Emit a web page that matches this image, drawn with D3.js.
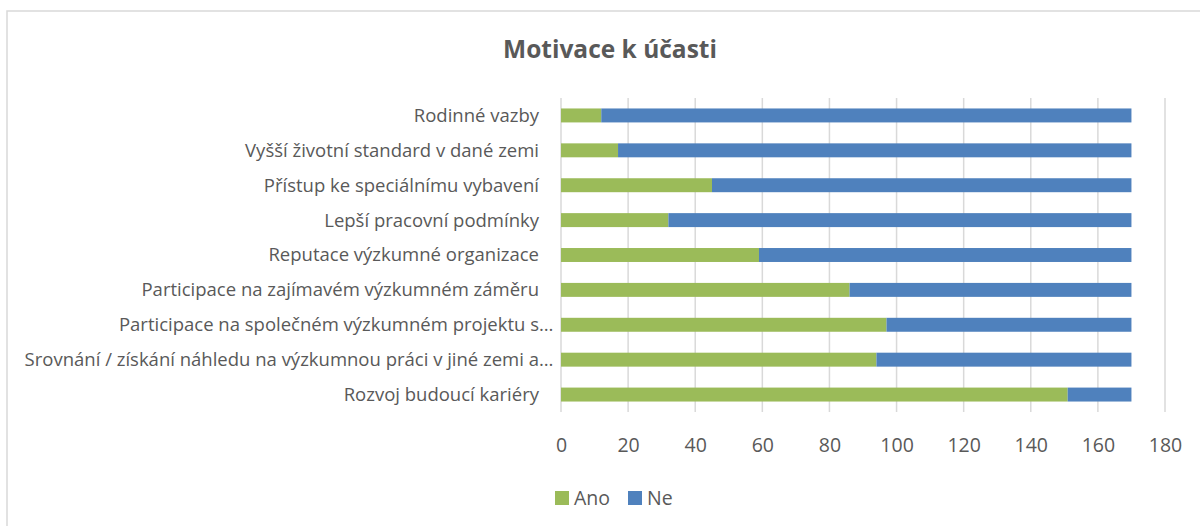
<!DOCTYPE html>
<html>
<head>
<meta charset="utf-8">
<script src="https://cdn.jsdelivr.net/npm/d3@7"></script>
<style>
  body { margin: 0; background: #fff; }
  svg text { font-family: "Open Sans", sans-serif; fill: #595959; }
</style>
</head>
<body>
<svg id="chart"></svg>
<script>
// categories listed top to bottom, as in the picture
var categories = [
  "Rodinné vazby",
  "Vyšší životní standard v dané zemi",
  "Přístup ke speciálnímu vybavení",
  "Lepší pracovní podmínky",
  "Reputace výzkumné organizace",
  "Participace na zajímavém výzkumném záměru",
  "Participace na společném výzkumném projektu s…",
  "Srovnání / získání náhledu na výzkumnou práci v jiné zemi a…",
  "Rozvoj budoucí kariéry"
];
var ano = [12, 17, 45, 32, 59, 86, 97, 94, 151];
var ne = [158, 153, 125, 138, 111, 84, 73, 76, 19];
var seriesNames = ["Ano", "Ne"];
var xTicks = [0, 20, 40, 60, 80, 100, 120, 140, 160, 180];

var width = 1200,
  height = 526,
  colors = ["#9BBB59", "#4F81BD"],
  plot = { left: 561, right: 1165, top: 98, bottom: 412 };

var svg = d3.select("#chart")
  .attr("width", width)
  .attr("height", height);

// chart border (right and bottom edges fall outside the picture)
svg.append("rect")
  .attr("x", 7)
  .attr("y", 11)
  .attr("width", 1300)
  .attr("height", 600)
  .attr("fill", "none")
  .attr("stroke", "#d9d9d9")
  .attr("stroke-width", 1.5);

svg.append("text")
  .attr("x", 610)
  .attr("y", 58)
  .attr("text-anchor", "middle")
  .style("font-size", "24.5px")
  .style("font-weight", "bold")
  .text("Motivace k účasti");

var x = d3.scaleLinear()
  .domain([0, 180])
  .range([plot.left, plot.right]);

var y = d3.scaleBand()
  .domain(categories)
  .range([plot.top, plot.bottom])
  .paddingInner(0.6)
  .paddingOuter(0.3);

// gridlines
svg.append("g")
  .selectAll("line")
  .data(xTicks).enter()
  .append("line")
  .attr("x1", function(d){ return x(d) })
  .attr("x2", function(d){ return x(d) })
  .attr("y1", plot.top)
  .attr("y2", plot.bottom)
  .attr("stroke", "#d9d9d9")
  .attr("stroke-width", 1.5);

// x axis tick labels
var xAxis = d3.axisBottom(x)
  .tickValues(xTicks)
  .tickSize(0)
  .tickPadding(0);

var axisG = svg.append("g")
  .attr("transform", "translate(0," + (plot.bottom + 26) + ")")
  .call(xAxis);
axisG.select(".domain").remove();
axisG.selectAll("text")
  .attr("fill", "#595959")
  .style("font-size", "19.5px")
  .style("font-family", "'Open Sans', sans-serif");

// stacked bars
var rows = categories.map(function(c, i){ return { name: c, Ano: ano[i], Ne: ne[i] } });
var stack = d3.stack().keys(seriesNames)(rows);

svg.append("g")
  .selectAll("g")
  .data(stack).enter()
  .append("g")
  .attr("fill", function(d, i){ return colors[i] })
  .selectAll("rect")
  .data(function(d){ return d }).enter()
  .append("rect")
  .attr("x", function(d){ return x(d[0]) })
  .attr("width", function(d){ return x(d[1]) - x(d[0]) })
  .attr("y", function(d){ return y(d.data.name) })
  .attr("height", y.bandwidth());

// category labels; the trimmed ones keep their ellipsis past the label edge
var labels = svg.append("g")
  .selectAll("g")
  .data(categories).enter()
  .append("g")
  .attr("transform", function(d){ return "translate(0," + (y(d) + y.bandwidth() / 2) + ")" });

labels.append("text")
  .attr("x", 539)
  .attr("dy", "0.35em")
  .attr("text-anchor", "end")
  .style("font-size", "18.5px")
  .text(function(d){ return d.replace("…", "") });

labels.filter(function(d){ return d.slice(-1) == "…" })
  .append("text")
  .attr("x", 539)
  .attr("dy", "0.35em")
  .style("font-size", "18.5px")
  .text("…");

// legend
var legend = svg.append("g")
  .selectAll("g")
  .data(seriesNames).enter()
  .append("g")
  .attr("transform", function(d, i){ return "translate(" + (555 + i * 73) + ",491)" });

legend.append("rect")
  .attr("width", 14)
  .attr("height", 14)
  .attr("fill", function(d, i){ return colors[i] });

legend.append("text")
  .attr("x", 19)
  .attr("y", 14)
  .style("font-size", "19.5px")
  .text(function(d){ return d });
</script>
</body>
</html>
